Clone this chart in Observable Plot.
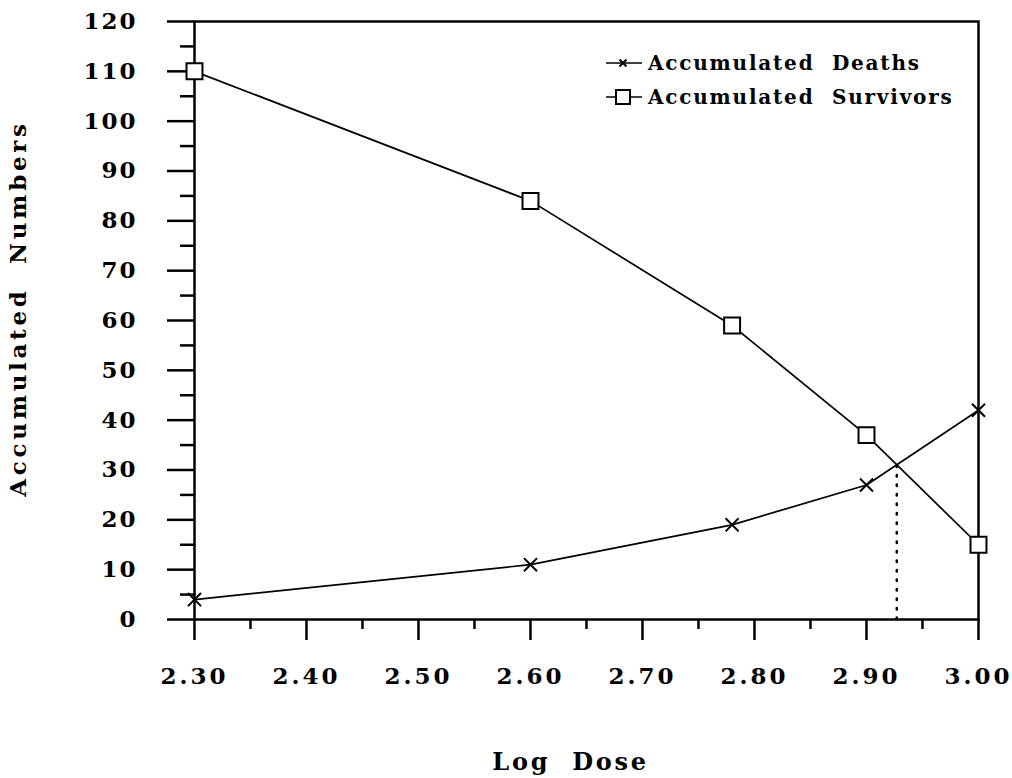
<!DOCTYPE html>
<html>
<head>
<meta charset="utf-8">
<script src="https://cdn.jsdelivr.net/npm/d3@7"></script>
<script src="https://cdn.jsdelivr.net/npm/@observablehq/plot@0.6"></script>
<style>
  html, body { margin: 0; padding: 0; background: #fff; }
  #wrap { position: relative; width: 1012px; height: 778px; }
  #legend { position: absolute; left: 604px; top: 46px; font-family: "DejaVu Serif", serif; font-weight: bold; font-size: 20px; letter-spacing: 1.8px; color: #000; }
  #legend .row { display: flex; align-items: center; height: 34px; }
  #legend svg { margin-right: 4px; }
</style>
</head>
<body>
<div id="wrap"></div>
<script>
const logDose = [2.30, 2.60, 2.78, 2.90, 3.00];
const deaths = [4, 11, 19, 27, 42];
const survivors = [110, 84, 59, 37, 15];
const xTicks = [2.30, 2.40, 2.50, 2.60, 2.70, 2.80, 2.90, 3.00];
const xMinorTicks = [2.35, 2.45, 2.55, 2.65, 2.75, 2.85, 2.95];
const yTicks = [0, 10, 20, 30, 40, 50, 60, 70, 80, 90, 100, 110, 120];
const yMinorTicks = [5, 15, 25, 35, 45, 55, 65, 75, 85, 95, 105, 115];
const seriesNames = ["Accumulated  Deaths", "Accumulated  Survivors"];
const xLabel = "Log  Dose";
const yLabel = "Accumulated  Numbers";

const deathData = logDose.map((x, i) => ({x, y: deaths[i]}));
const survData = logDose.map((x, i) => ({x, y: survivors[i]}));

// crossing point of the two curves
let cross = null;
for (let i = 0; i < logDose.length - 1; i++) {
  const d0 = survivors[i] - deaths[i], d1 = survivors[i + 1] - deaths[i + 1];
  if (d0 > 0 && d1 <= 0) {
    const t = d0 / (d0 - d1);
    cross = {x: logDose[i] + t * (logDose[i + 1] - logDose[i]), y: deaths[i] + t * (deaths[i + 1] - deaths[i])};
  }
}

const font = "DejaVu Serif, serif";
const chart = Plot.plot({
  width: 1012,
  height: 778,
  marginLeft: 194,
  marginRight: 34,
  marginTop: 21,
  marginBottom: 159,
  style: {fontFamily: font, fontWeight: "bold", fontSize: "23px", color: "#000", background: "#fff"},
  x: {domain: [2.3, 3.0]},
  y: {domain: [0, 120]},
  marks: [
    Plot.frame({stroke: "#000", strokeWidth: 2.5}),
    Plot.axisY(yTicks, {tickSize: 27, tickPadding: 30, strokeWidth: 2.5, tickFormat: d => String(d), label: null, fontSize: 23}),
    Plot.axisY(yMinorTicks, {tickSize: 14, strokeWidth: 2.5, tickFormat: () => "", label: null}),
    Plot.axisX(xTicks, {tickSize: 21, tickPadding: 27, strokeWidth: 2.5, tickFormat: d => d.toFixed(2), label: null, fontSize: 23}),
    Plot.axisX(xMinorTicks, {tickSize: 10, strokeWidth: 2.5, tickFormat: () => "", label: null}),
    Plot.text([yLabel], {frameAnchor: "left", textAnchor: "middle", dx: -176, dy: -12, rotate: -90, fontSize: 23}),
    Plot.text([xLabel], {frameAnchor: "bottom", textAnchor: "middle", dx: -16, dy: 150, fontSize: 24}),
    cross ? Plot.ruleX([cross], {x: "x", y1: 0, y2: "y", stroke: "#000", strokeWidth: 2.5, strokeDasharray: "1.5,8", strokeLinecap: "round"}) : null,
    Plot.line(deathData, {x: "x", y: "y", stroke: "#000", strokeWidth: 1.7}),
    Plot.line(survData, {x: "x", y: "y", stroke: "#000", strokeWidth: 1.7}),
    Plot.dot(deathData, {x: "x", y: "y", symbol: "times", r: 6, stroke: "#000", strokeWidth: 2}),
    Plot.dot(survData, {x: "x", y: "y", symbol: "square", r: 9, fill: "#fff", stroke: "#000", strokeWidth: 2})
  ]
});
const svg = d3.select(chart);
svg.selectAll('g[aria-label="x-axis tick label"] text').style("letter-spacing", "3px");
svg.selectAll('g[aria-label="y-axis tick label"] text').style("letter-spacing", "2px");
svg.selectAll("text").filter(function () { return this.textContent === yLabel; }).style("letter-spacing", "3.7px").style("white-space", "pre");
svg.selectAll("text").filter(function () { return this.textContent === xLabel; }).style("letter-spacing", "2.7px").style("white-space", "pre");

const wrap = document.getElementById("wrap");
wrap.appendChild(chart);

// legend
const leg = document.createElement("div");
leg.id = "legend";
const syms = [
  `<svg width="40" height="20"><line x1="2" y1="10" x2="38" y2="10" stroke="#000" stroke-width="1.7"/><path d="M15.5,6.5L22.5,13.5M22.5,6.5L15.5,13.5" stroke="#000" stroke-width="2"/></svg>`,
  `<svg width="40" height="20"><line x1="2" y1="10" x2="38" y2="10" stroke="#000" stroke-width="1.7"/><rect x="12" y="3" width="14" height="14" fill="#fff" stroke="#000" stroke-width="2"/></svg>`
];
leg.innerHTML = seriesNames.map((n, i) => `<div class="row">${syms[i]}<span style="white-space:pre">${n}</span></div>`).join("");
wrap.appendChild(leg);
</script>
</body>
</html>
